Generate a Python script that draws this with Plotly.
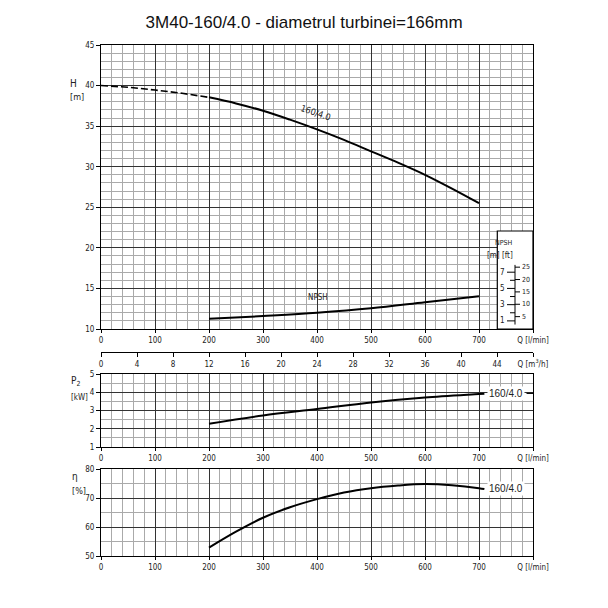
import plotly.graph_objects as go

# Q in l/min
q_h_dash = [0, 50, 100, 150, 200]
h_dash = [40.0, 39.8, 39.45, 39.05, 38.55]
q_h = [200, 250, 300, 350, 400, 450, 500, 550, 600, 650, 700]
h_vals = [38.55, 37.8, 36.9, 35.8, 34.6, 33.3, 31.9, 30.5, 29.0, 27.3, 25.5]

q_npsh = [200, 300, 400, 500, 600, 700]
npsh_vals = [11.25, 11.6, 12.0, 12.55, 13.3, 14.05]

q_p2 = [200, 300, 400, 500, 600, 700, 710]
p2_vals = [2.27, 2.73, 3.08, 3.44, 3.71, 3.90, 3.92]

q_eta = [200, 250, 300, 350, 400, 450, 500, 550, 600, 650, 700, 710]
eta_vals = [52.9, 58.4, 63.2, 66.8, 69.6, 71.9, 73.4, 74.3, 74.8, 74.4, 73.4, 73.1]

q_ticks = [0, 100, 200, 300, 400, 500, 600, 700, 800]
q_labels = ["0", "100", "200", "300", "400", "500", "600", "700", "Q [l/min]"]
m3h_ticks = [0, 4, 8, 12, 16, 20, 24, 28, 32, 36, 40, 44, 48]
m3h_labels = [str(v) for v in m3h_ticks[:-1]] + ["Q [m<sup>3</sup>/h]"]

npsh_m_ticks = [1, 2, 3, 4, 5, 6, 7]
npsh_ft_ticks = [5, 10, 15, 20, 25]

FONT = "DejaVu Sans Condensed, Liberation Sans Narrow, Liberation Sans, sans-serif"
MAJOR = "#333333"
MINOR = "#aaaaaa"
LINE = dict(color="black", width=2)

# page body adds ~8px offset, so margins are shifted to compensate
L, T, PW, PH = 93, 37, 432, 511


def px(xp):
    return (xp - 101) / PW


def py(yp):
    return (556 - yp) / PH


fig = go.Figure()

fig.add_trace(go.Scatter(x=q_h_dash, y=h_dash, mode="lines", line=dict(color="black", width=1.6, dash="7px,3px"),
                         xaxis="x", yaxis="y", hoverinfo="skip"))
fig.add_trace(go.Scatter(x=q_h, y=h_vals, mode="lines", line=LINE, line_shape="spline", xaxis="x", yaxis="y"))
fig.add_trace(go.Scatter(x=q_npsh, y=npsh_vals, mode="lines", line=LINE, line_shape="spline", xaxis="x", yaxis="y"))
fig.add_trace(go.Scatter(x=[0, 48], y=[None, None], mode="lines", xaxis="x4", yaxis="y", hoverinfo="skip"))
fig.add_trace(go.Scatter(x=q_p2, y=p2_vals, mode="lines", line=LINE, line_shape="spline", xaxis="x2", yaxis="y2"))
fig.add_trace(go.Scatter(x=q_eta, y=eta_vals, mode="lines", line=LINE, line_shape="spline", xaxis="x3", yaxis="y3"))


def xax(anchor, **kw):
    d = dict(anchor=anchor, range=[0, 800], tickvals=q_ticks, ticktext=q_labels,
             showgrid=True, gridcolor=MAJOR, gridwidth=1.1,
             minor=dict(dtick=20, showgrid=True, gridcolor=MINOR, gridwidth=0.7),
             showline=True, linecolor="black", linewidth=1.2, mirror=True,
             ticks="outside", ticklen=3, tickcolor="black", zeroline=False,
             tickfont=dict(size=8, color="#222"))
    d.update(kw)
    return d


def yax(anchor, rng, dtick, minor, domain):
    return dict(anchor=anchor, range=rng, dtick=dtick, domain=domain,
                showgrid=True, gridcolor=MAJOR, gridwidth=1.1,
                minor=dict(dtick=minor, showgrid=True, gridcolor=MINOR, gridwidth=0.7),
                showline=True, linecolor="black", linewidth=1.2, mirror=True,
                ticks="outside", ticklen=4, tickcolor="black", zeroline=False,
                tickfont=dict(size=8, color="#222"))


fig.update_layout(
    width=608, height=608,
    margin=dict(l=L, r=608 - L - PW, t=T, b=608 - T - PH),
    paper_bgcolor="white", plot_bgcolor="white",
    showlegend=False,
    font=dict(family=FONT, size=8, color="#222"),
    title=dict(text="3M40-160/4.0 - diametrul turbinei=166mm", xref="container", x=0.487, xanchor="center",
               yref="container", y=1 - 14 / 608, yanchor="middle",
               font=dict(family="Liberation Sans, Arial, sans-serif", size=17, color="#111")),
    xaxis=xax("y"),
    yaxis=yax("x", [10, 45], 5, 1, [py(329), 1.0]),
    xaxis2=xax("y2"),
    yaxis2=yax("x2", [1, 5], 1, 0.5, [py(447), py(374)]),
    xaxis3=xax("y3"),
    yaxis3=yax("x3", [50, 80], 10, 5, [0.0, py(469)]),
    xaxis4=dict(overlaying="x", anchor="free", position=py(352), side="bottom", range=[0, 48],
                tickvals=m3h_ticks, ticktext=m3h_labels, showgrid=False, zeroline=False,
                showline=True, linecolor="black", linewidth=1.2, ticks="outside", ticklen=4,
                tickcolor="black", tickfont=dict(size=8, color="#222")),
)

# axis titles
for text, x, y, size in [("H", 68, 76, 10), ("[m]", 68, 90, 9),
                         ("P<sub>2</sub>", 69, 390, 10), ("[kW]", 69, 404, 8),
                         ("η", 70, 484, 10), ("[%]", 70, 498, 9)]:
    fig.add_annotation(text=text, x=px(x), y=py(y), xref="paper", yref="paper", showarrow=False,
                       font=dict(size=size))

# curve labels
fig.add_annotation(text="160/4.0", x=398, y=36.6, xref="x", yref="y", textangle=19, showarrow=False,
                   font=dict(size=9))
fig.add_annotation(text="NPSH", x=402, y=13.9, xref="x", yref="y", showarrow=False, font=dict(size=8))
fig.add_annotation(text="160/4.0", x=750, y=3.94, xref="x2", yref="y2", showarrow=False,
                   font=dict(size=10, family="Liberation Sans, sans-serif"), bgcolor="white")
fig.add_shape(type="line", x0=788, x1=800, y0=3.94, y1=3.94, xref="x2", yref="y2",
              line=dict(color="black", width=1.2), layer="above")
fig.add_annotation(text="160/4.0", x=750, y=73.3, xref="x3", yref="y3", showarrow=False,
                   font=dict(size=10, family="Liberation Sans, sans-serif"), bgcolor="white")

# NPSH scale inset (m on the left, ft on the right)
ax_x = px(515)
fig.add_shape(type="rect", xref="paper", yref="paper", x0=px(497.3), x1=1.0, y0=py(329), y1=py(231),
              fillcolor="white", line=dict(color="black", width=1.2), layer="above")
fig.add_shape(type="line", xref="paper", yref="y", x0=ax_x, x1=ax_x, y0=10.55, y1=17.9,
              line=dict(color="black", width=1), layer="above")
for m in npsh_m_ticks:
    ln = 8 if m % 2 else 5
    fig.add_shape(type="line", xref="paper", yref="y", x0=ax_x - ln / PW, x1=ax_x, y0=10 + m, y1=10 + m,
                  line=dict(color="black", width=1), layer="above")
    if m % 2:
        fig.add_annotation(text=str(m), x=ax_x - 8 / PW, y=10 + m, xref="paper", yref="y",
                           xanchor="right", showarrow=False, font=dict(size=8))
for ft in npsh_ft_ticks:
    yv = 10 + ft / 3.281
    fig.add_shape(type="line", xref="paper", yref="y", x0=ax_x, x1=ax_x + 5 / PW, y0=yv, y1=yv,
                  line=dict(color="black", width=1), layer="above")
    fig.add_annotation(text=str(ft), x=ax_x + 5 / PW, y=yv, xref="paper", yref="y",
                       xanchor="left", showarrow=False, font=dict(size=7))
fig.add_annotation(text="NPSH", x=ax_x, y=py(243), xref="paper", yref="paper",
                   showarrow=False, font=dict(size=7))
fig.add_annotation(text="[m] [ft]", x=ax_x, y=py(255), xref="paper", yref="paper",
                   showarrow=False, font=dict(size=8))

fig.write_html("out.html")
